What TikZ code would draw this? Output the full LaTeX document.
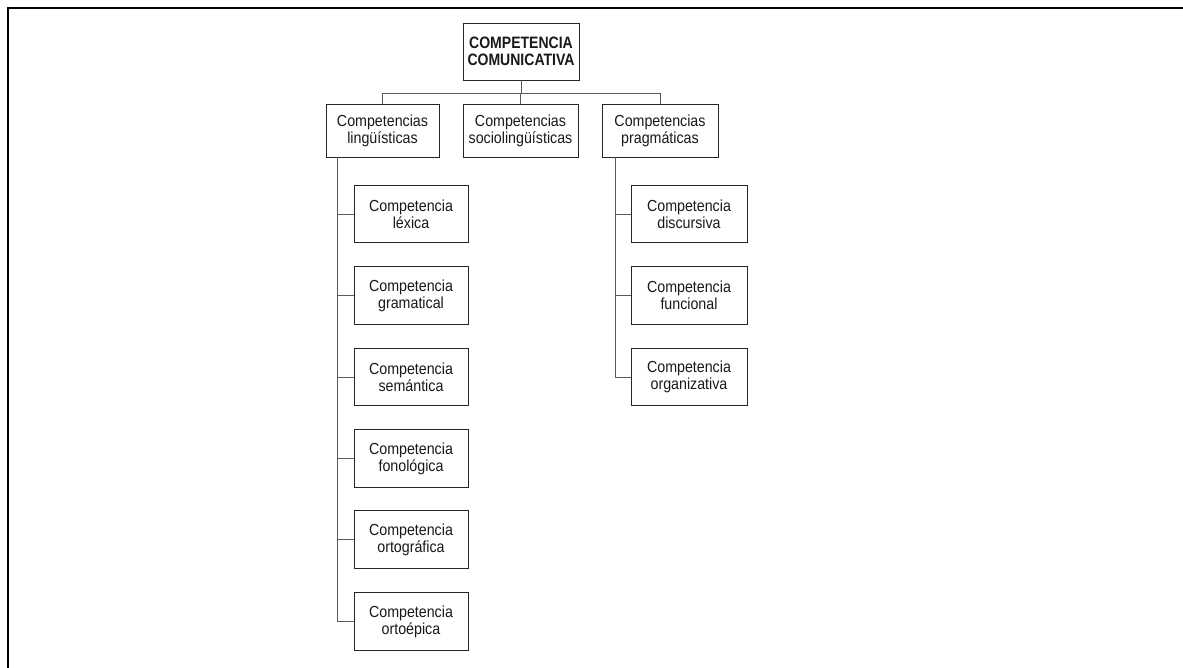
\documentclass[tikz,border=0pt]{standalone}
\usepackage{fontspec}
\setmainfont{Liberation Sans}
\newfontfamily\boxfont[FakeStretch=0.89]{Liberation Sans}
\newfontfamily\topfont[FakeStretch=0.85]{Liberation Sans Bold}
\begin{document}
\begin{tikzpicture}[x=1pt,y=-1pt,
  box/.style={draw=black!85,line width=0.9pt,rectangle,inner sep=0pt,align=center,
    text=black!90,font=\boxfont\fontsize{16}{17}\selectfont},
  topbox/.style={box,font=\topfont\fontsize{16.5}{17.5}\selectfont},
  conn/.style={draw=black!65,line width=0.9pt}]
\useasboundingbox (0,0) rectangle (1183,668);
% outer frame (cropped)
\draw[line width=2.6pt,black] (8,668) -- (8,8) -- (1183,8);
% top node
\node[topbox,minimum width=116pt,minimum height=57pt] (top) at (521,51.5) {COMPETENCIA\\COMUNICATIVA};
% level 1
\node[box,minimum width=113pt,minimum height=53pt] (l1) at (382.5,130.5) {Competencias\\lingüísticas};
\node[box,minimum width=115pt,minimum height=53pt] (l2) at (520.5,130.5) {Competencias\\sociolingüísticas};
\node[box,minimum width=116pt,minimum height=53pt] (l3) at (660,130.5) {Competencias\\pragmáticas};
% bus
\coordinate (bus) at (521,93);
\draw[conn] (top.south) -- (top.south |- bus);
\draw[conn] (l1.north) |- (l3.north |- bus) -- (l3.north);
\draw[conn] (l2.north) -- (l2.north |- bus);
% left children
\foreach \n/\y/\t in {c1/214/léxica,c2/295.5/gramatical,c3/377/semántica,c4/458.5/fonológica,c5/539.5/ortográfica,c6/621.5/ortoépica}
  \node[box,minimum width=114pt,minimum height=57.5pt] (\n) at (411,\y) {Competencia\\\t};
% right children
\foreach \n/\y/\t in {d1/214/discursiva,d2/295.5/funcional,d3/377/organizativa}
  \node[box,minimum width=116pt,minimum height=57.5pt] (\n) at (689,\y) {Competencia\\\t};
% spines
\coordinate (ls) at (337,157);
\coordinate (rs) at (615,157);
\draw[conn] (ls) |- (c6.west);
\foreach \n in {c1,c2,c3,c4,c5} \draw[conn] (\n.west) -- (\n.west -| ls);
\draw[conn] (rs) |- (d3.west);
\foreach \n in {d1,d2} \draw[conn] (\n.west) -- (\n.west -| rs);
\end{tikzpicture}
\end{document}
